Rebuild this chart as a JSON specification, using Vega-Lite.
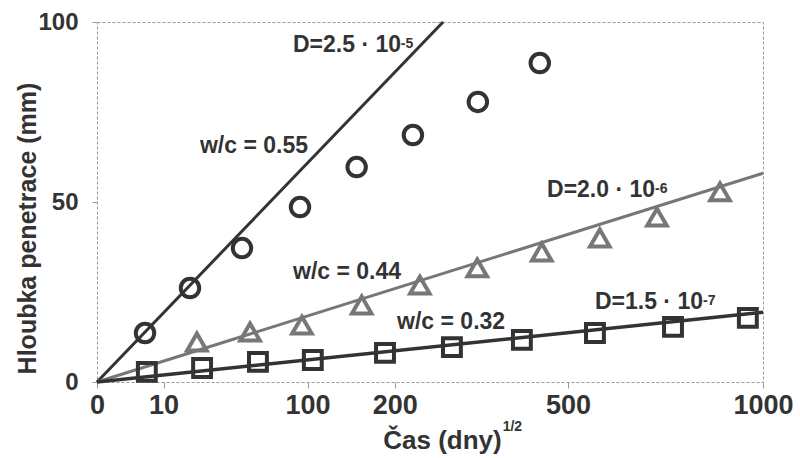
{
  "$schema": "https://vega.github.io/schema/vega-lite/v6.json",
  "width": 666,
  "height": 360,
  "autosize": {"type": "none"},
  "padding": {"left": 97, "top": 22, "right": 37, "bottom": 76},
  "background": "white",
  "config": {
    "font": "Liberation Sans, Arial, sans-serif",
    "view": {"stroke": "#999", "strokeDash": [3, 2], "strokeWidth": 1}
  },
  "datasets": {
    "circles": [
      {"t": 5.2, "h": 13.6}, {"t": 19.5, "h": 26.1}, {"t": 47.4, "h": 37.2}, {"t": 92.9, "h": 48.6},
      {"t": 152, "h": 59.7}, {"t": 225, "h": 68.6}, {"t": 327, "h": 77.8}, {"t": 442, "h": 88.6}
    ],
    "triangles": [
      {"t": 22.5, "h": 11.1}, {"t": 52.8, "h": 13.9}, {"t": 94.7, "h": 15.8}, {"t": 158, "h": 21.4},
      {"t": 235, "h": 26.9}, {"t": 326, "h": 31.7}, {"t": 446, "h": 36.1}, {"t": 570, "h": 40.0},
      {"t": 707, "h": 45.8}, {"t": 875, "h": 52.8}
    ],
    "squares": [
      {"t": 5.6, "h": 2.8}, {"t": 24.9, "h": 3.9}, {"t": 58.4, "h": 5.6}, {"t": 105, "h": 6.1},
      {"t": 187, "h": 8.1}, {"t": 284, "h": 9.7}, {"t": 407, "h": 11.7}, {"t": 559, "h": 13.6},
      {"t": 748, "h": 15.3}, {"t": 955, "h": 17.8}
    ],
    "line1": [{"t": 0, "h": 0}, {"t": 270, "h": 100}],
    "line2": [{"t": 0, "h": 0}, {"t": 1000, "h": 58}],
    "line3": [{"t": 0, "h": 0}, {"t": 1000, "h": 19.4}],
    "labels": [
      {"t": 86.6, "h": 93.6, "label": "D=2.5 · 10"},
      {"t": 23.9, "h": 65.6, "label": "w/c = 0.55"},
      {"t": 456.6, "h": 53.3, "label": "D=2.0 · 10"},
      {"t": 86.6, "h": 30.6, "label": "w/c = 0.44"},
      {"t": 203, "h": 16.7, "label": "w/c = 0.32"},
      {"t": 559, "h": 22.2, "label": "D=1.5 · 10"}
    ],
    "sups": [
      {"t": 208, "h": 92.8, "label": "-5"},
      {"t": 702, "h": 52.5, "label": "-6"},
      {"t": 828, "h": 21.4, "label": "-7"},
      {"t": 371, "h": -13.6, "label": "1/2"}
    ]
  },
  "encoding": {
    "x": {
      "field": "t", "type": "quantitative",
      "scale": {"type": "sqrt", "domain": [0, 1000], "nice": false},
      "axis": {
        "title": "Čas (dny)",
        "values": [0, 10, 100, 200, 500, 1000],
        "format": "d",
        "grid": false, "domain": false,
        "tickColor": "#999", "tickSize": 6,
        "labelFontSize": 27, "labelFontWeight": "bold", "labelColor": "#333",
        "labelPadding": 4, "labelFlush": false,
        "titleFontSize": 26, "titleFontWeight": "bold", "titleColor": "#333",
        "titleX": 345, "titleY": 58, "titleBaseline": "middle"
      }
    },
    "y": {
      "field": "h", "type": "quantitative",
      "scale": {"domain": [0, 100], "nice": false},
      "axis": {
        "title": "Hloubka penetrace (mm)",
        "values": [0, 50, 100],
        "grid": false, "domain": false,
        "tickColor": "#999", "tickSize": 5,
        "labelFontSize": 24, "labelFontWeight": "bold", "labelColor": "#333",
        "labelPadding": 14,
        "titleFontSize": 25, "titleFontWeight": "bold", "titleColor": "#333",
        "titleX": -70, "titleY": 206, "titleBaseline": "middle"
      }
    }
  },
  "layer": [
    {"data": {"name": "line1"}, "mark": {"type": "line", "color": "#333", "strokeWidth": 3}},
    {"data": {"name": "line2"}, "mark": {"type": "line", "color": "#777", "strokeWidth": 3}},
    {"data": {"name": "line3"}, "mark": {"type": "line", "color": "#333", "strokeWidth": 3.5}},
    {"data": {"name": "circles"}, "mark": {"type": "point", "shape": "circle", "filled": false, "stroke": "#333", "strokeWidth": 4, "size": 340, "opacity": 1}},
    {"data": {"name": "triangles"}, "mark": {"type": "point", "shape": "triangle-up", "filled": false, "stroke": "#777", "strokeWidth": 4, "size": 380, "opacity": 1}},
    {"data": {"name": "squares"}, "mark": {"type": "point", "shape": "square", "filled": false, "stroke": "#333", "strokeWidth": 4, "size": 320, "opacity": 1}},
    {"data": {"name": "labels"}, "mark": {"type": "text", "align": "left", "baseline": "middle", "fontSize": 23, "fontWeight": "bold", "color": "#333"}, "encoding": {"text": {"field": "label"}}},
    {"data": {"name": "sups"}, "mark": {"type": "text", "align": "left", "baseline": "alphabetic", "fontSize": 14, "fontWeight": "bold", "color": "#333"}, "encoding": {"text": {"field": "label"}}}
  ]
}
